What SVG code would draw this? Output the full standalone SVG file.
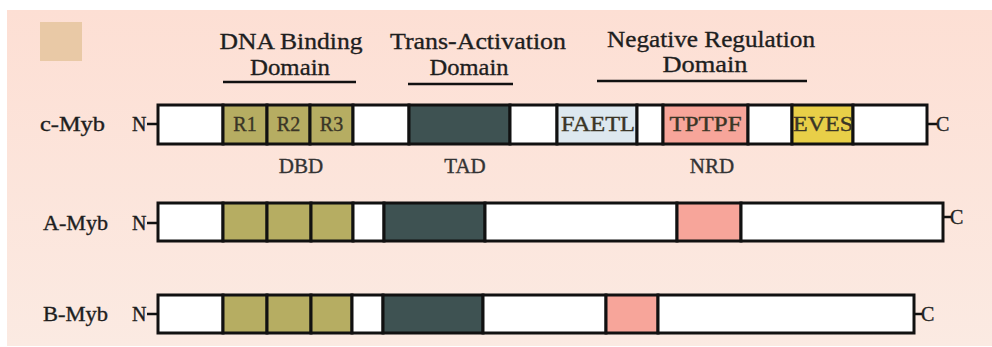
<svg xmlns="http://www.w3.org/2000/svg" width="992" height="347" viewBox="0 0 992 347">
<defs>
<linearGradient id="bg" x1="0" y1="0" x2="0" y2="1">
<stop offset="0" stop-color="#fddfd4"/>
<stop offset="1" stop-color="#fbeae2"/>
</linearGradient>
</defs>
<style>
text{font-family:"Liberation Serif","Times New Roman",serif;fill:#1e1e1e;stroke:#1e1e1e;stroke-width:0.35}
.hd{font-size:24px;text-anchor:middle}
.lb{font-size:20px}
.sm{font-size:21px;text-anchor:middle;fill:#333;stroke:#333}
.bx{font-size:20px;text-anchor:middle;fill:#3a3526;stroke:#3a3526}
.seg{stroke:#111;stroke-width:3}
.w{fill:#fff}
.o{fill:#b6ad62}
.d{fill:#3e5252}
.b{fill:#dde8ef}
.p{fill:#f7a59a}
.y{fill:#e8cf48}
.ln{stroke:#111;stroke-width:2.5}
</style>
<rect x="0" y="0" width="992" height="347" fill="#fff"/>
<rect x="7" y="10" width="985" height="336" fill="url(#bg)"/>
<rect x="40" y="22" width="42" height="39" fill="#e9c9a6"/>

<g id="headers">
<text class="hd" x="291" y="49" textLength="143" lengthAdjust="spacingAndGlyphs">DNA Binding</text>
<text class="hd" x="290" y="75" textLength="80" lengthAdjust="spacingAndGlyphs">Domain</text>
<line class="ln" x1="223" y1="82" x2="356" y2="82"/>
<text class="hd" x="478" y="49" textLength="176" lengthAdjust="spacingAndGlyphs">Trans-Activation</text>
<text class="hd" x="469" y="75" textLength="79" lengthAdjust="spacingAndGlyphs">Domain</text>
<line class="ln" x1="408" y1="84" x2="513" y2="84"/>
<text class="hd" x="711" y="47" textLength="208" lengthAdjust="spacingAndGlyphs">Negative Regulation</text>
<text class="hd" x="705" y="72" textLength="85" lengthAdjust="spacingAndGlyphs">Domain</text>
<line class="ln" x1="597" y1="81" x2="807" y2="81"/>
</g>

<g id="c-myb">
<text class="lb" x="40" y="131" textLength="65" lengthAdjust="spacingAndGlyphs">c-Myb</text>
<text class="lb" x="132" y="131">N</text>
<line class="ln" x1="147" y1="124" x2="158" y2="124"/>
<rect class="seg w" x="158" y="105" width="65" height="39"/>
<rect class="seg o" x="223" y="105" width="44" height="39"/>
<rect class="seg o" x="267" y="105" width="43" height="39"/>
<rect class="seg o" x="310" y="105" width="43" height="39"/>
<rect class="seg w" x="353" y="105" width="56" height="39"/>
<rect class="seg d" x="409" y="105" width="101" height="39"/>
<rect class="seg w" x="510" y="105" width="47" height="39"/>
<rect class="seg b" x="557" y="105" width="80" height="39"/>
<rect class="seg w" x="637" y="105" width="26" height="39"/>
<rect class="seg p" x="663" y="105" width="85" height="39"/>
<rect class="seg w" x="748" y="105" width="44" height="39"/>
<rect class="seg y" x="792" y="105" width="61" height="39"/>
<rect class="seg w" x="853" y="105" width="74" height="39"/>
<line class="ln" x1="927" y1="124" x2="937" y2="124"/>
<text class="lb" x="936" y="131">C</text>
<text class="bx" x="245" y="131">R1</text>
<text class="bx" x="288.5" y="131">R2</text>
<text class="bx" x="331.5" y="131">R3</text>
<text class="bx" x="598" y="131" textLength="74" lengthAdjust="spacingAndGlyphs">FAETL</text>
<text class="bx" x="705.5" y="131" textLength="72" lengthAdjust="spacingAndGlyphs">TPTPF</text>
<text class="bx" x="823" y="131" textLength="60" lengthAdjust="spacingAndGlyphs">EVES</text>
<text class="sm" x="301" y="173">DBD</text>
<text class="sm" x="465" y="173">TAD</text>
<text class="sm" x="712" y="173">NRD</text>
</g>

<g id="a-myb">
<text class="lb" x="43" y="230" textLength="65" lengthAdjust="spacingAndGlyphs">A-Myb</text>
<text class="lb" x="132" y="230">N</text>
<line class="ln" x1="147" y1="223" x2="158" y2="223"/>
<rect class="seg w" x="158" y="203" width="65" height="38"/>
<rect class="seg o" x="223" y="203" width="44" height="38"/>
<rect class="seg o" x="267" y="203" width="44" height="38"/>
<rect class="seg o" x="311" y="203" width="42" height="38"/>
<rect class="seg w" x="353" y="203" width="31" height="38"/>
<rect class="seg d" x="384" y="203" width="101" height="38"/>
<rect class="seg w" x="485" y="203" width="192" height="38"/>
<rect class="seg p" x="677" y="203" width="64" height="38"/>
<rect class="seg w" x="741" y="203" width="202" height="38"/>
<line class="ln" x1="943" y1="217" x2="951" y2="217"/>
<text class="lb" x="950" y="224">C</text>
</g>

<g id="b-myb">
<text class="lb" x="43" y="321" textLength="65" lengthAdjust="spacingAndGlyphs">B-Myb</text>
<text class="lb" x="132" y="321">N</text>
<line class="ln" x1="147" y1="314" x2="158" y2="314"/>
<rect class="seg w" x="158" y="295" width="65" height="38"/>
<rect class="seg o" x="223" y="295" width="44" height="38"/>
<rect class="seg o" x="267" y="295" width="44" height="38"/>
<rect class="seg o" x="311" y="295" width="41" height="38"/>
<rect class="seg w" x="352" y="295" width="31" height="38"/>
<rect class="seg d" x="383" y="295" width="100" height="38"/>
<rect class="seg w" x="483" y="295" width="123" height="38"/>
<rect class="seg p" x="606" y="295" width="52" height="38"/>
<rect class="seg w" x="658" y="295" width="256" height="38"/>
<line class="ln" x1="914" y1="314" x2="922" y2="314"/>
<text class="lb" x="921" y="321">C</text>
</g>
</svg>
